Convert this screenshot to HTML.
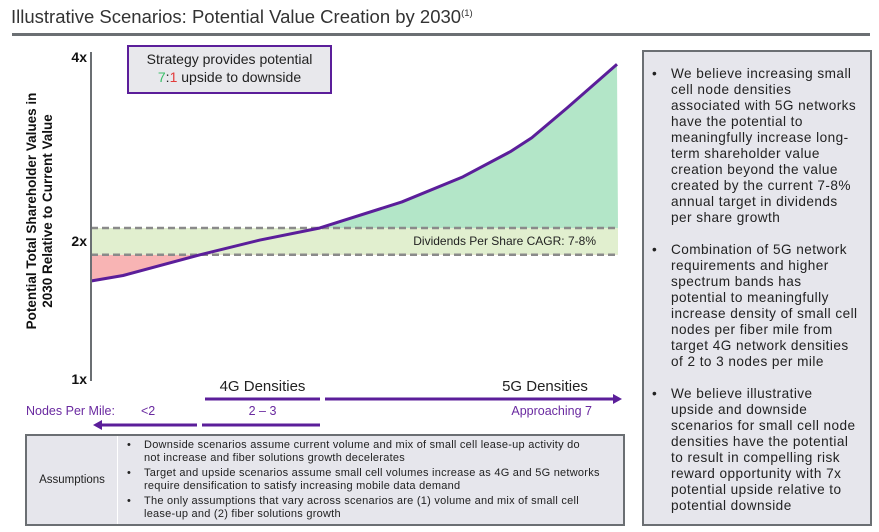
<!DOCTYPE html>
<html><head><meta charset="utf-8"><style>
body{margin:0;width:879px;height:532px;background:#fff;font-family:"Liberation Sans",sans-serif;position:relative;overflow:hidden;color:#222}
.abs{position:absolute}
#rp{left:642px;top:50px;width:226px;height:472px;border:2px solid #6b6f73;background:#e6e6ec;box-sizing:content-box}
#rp ul{margin:0;padding:0 0 0 27px;list-style:none;font-size:13.6px;line-height:16px;color:#222;white-space:nowrap;letter-spacing:0.45px}
#rp li{position:relative;margin-top:0}
#rp li::before{content:"•";position:absolute;left:-19px}
#tb{left:25px;top:434px;width:596px;height:88px;border:2px solid #6b6f73;background:#e6e6ec;font-size:11px;line-height:12.6px;letter-spacing:0.25px}
#tb ul{list-style:none;margin:0;padding:0;white-space:nowrap}
#tb li{position:relative;padding-left:17px;margin-bottom:3px}
#tb li::before{content:"•";position:absolute;left:0}
</style></head><body>
<div class="abs" style="left:11px;top:6px;font-size:18.5px;color:#333">Illustrative Scenarios: Potential Value Creation by 2030<sup style="font-size:9.5px">(1)</sup></div>
<div class="abs" style="left:12px;top:33px;width:858px;height:3px;background:#6b6f73"></div>

<svg class="abs" style="left:0;top:0" width="879" height="532">
<g id="plot"></g>
</svg>

<div class="abs" style="left:127px;top:45px;width:201px;height:42px;border:2px solid #5b1e9a;background:#e8e8ec;text-align:center;font-size:14px;line-height:18px;padding-top:3px;color:#222;white-space:nowrap">Strategy provides potential<br><span style="color:#3bbf6a">7</span>:<span style="color:#e23b3b">1</span> upside to downside</div>

<div class="abs" style="left:-115px;top:195px;width:310px;text-align:center;transform:rotate(-90deg);font-weight:bold;font-size:13.5px;line-height:16px;color:#111">Potential Total Shareholder Values in<br>2030 Relative to Current Value</div>

<div class="abs" style="left:200px;top:378px;width:125px;text-align:center;font-size:15px">4G Densities</div>
<div class="abs" style="left:476px;top:378px;width:138px;text-align:center;font-size:15px">5G Densities</div>
<div class="abs" style="left:26px;top:404px;font-size:12.5px;color:#6a2aa0">Nodes Per Mile:</div>
<div class="abs" style="left:141px;top:404px;font-size:12.5px;color:#6a2aa0">&lt;2</div>
<div class="abs" style="left:205px;top:404px;width:115px;text-align:center;font-size:12.5px;color:#6a2aa0">2 – 3</div>
<div class="abs" style="left:470px;top:404px;width:122px;text-align:right;font-size:12.5px;color:#6a2aa0">Approaching 7</div>

<div id="tb" class="abs">
<div class="abs" style="left:0;top:0;width:90px;height:88px;border-right:1px solid #fff;display:flex;align-items:center;justify-content:center;font-size:11.5px;letter-spacing:0">Assumptions</div>
<ul class="abs" style="left:100px;top:3px;width:490px">
<li>Downside scenarios assume current volume and mix of small cell lease-up activity do<br>not increase and fiber solutions growth decelerates</li>
<li>Target and upside scenarios assume small cell volumes increase as 4G and 5G networks<br>require densification to satisfy increasing mobile data demand</li>
<li>The only assumptions that vary across scenarios are (1) volume and mix of small cell<br>lease-up and (2) fiber solutions growth</li>
</ul></div>

<div id="rp" class="abs">
<ul style="margin-top:14px">
<li>We believe increasing small<br>cell node densities<br>associated with 5G networks<br>have the potential to<br>meaningfully increase long-<br>term shareholder value<br>creation beyond the value<br>created by the current 7-8%<br>annual target in dividends<br>per share growth</li>
<li style="margin-top:16px">Combination of 5G network<br>requirements and higher<br>spectrum bands has<br>potential to meaningfully<br>increase density of small cell<br>nodes per fiber mile from<br>target 4G network densities<br>of 2 to 3 nodes per mile</li>
<li style="margin-top:16px">We believe illustrative<br>upside and downside<br>scenarios for small cell node<br>densities have the potential<br>to result in compelling risk<br>reward opportunity with 7x<br>potential upside relative to<br>potential downside</li>
</ul></div>

<script>
const xs = [0, 6.1, 20.7, 32.1, 43.5, 59.1, 70.7, 79.7, 83.8, 90.5, 100];
const values = [1.71, 1.75, 1.90, 2.01, 2.14, 2.42, 2.69, 2.96, 3.11, 3.43, 3.90];
const bandRange = [1.90, 2.14];
const tickValues = [1, 2, 4];
const tickLabels = ["1x", "2x", "4x"];

const NS = "http://www.w3.org/2000/svg";
function X(v){ return 91 + v / 100 * 526; }
function Y(v){ return v <= 2 ? 379 - (v - 1) * 138 : 241 - (v - 2) * 93; }
const g = document.getElementById('plot');
function mk(tag, attrs){ const e = document.createElementNS(NS, tag); for (const k in attrs) e.setAttribute(k, attrs[k]); g.appendChild(e); return e; }

const yTop = Y(bandRange[1]), yBot = Y(bandRange[0]);
const x0 = X(0), x1 = X(100) + 1;
const pts = xs.map((x, i) => X(x) + ',' + Y(values[i])).join(' ');

let defs = mk('defs', {});
defs.innerHTML = '<clipPath id="cu"><rect x="0" y="0" width="879" height="' + yTop + '"/></clipPath><clipPath id="cd"><rect x="0" y="' + yBot + '" width="879" height="300"/></clipPath>';

let band = mk('rect', {x: x0, y: yTop, width: x1 - x0, height: yBot - yTop, fill: '#e1efcf'});



let up = mk('polygon', {points: pts + ' ' + x1 + ',' + yTop + ' ' + x0 + ',' + yTop, fill: '#b3e6c8', 'clip-path': 'url(#cu)'});


let dn = mk('polygon', {points: pts + ' ' + x1 + ',' + yBot + ' ' + x0 + ',' + yBot, fill: '#f8b4b4', 'clip-path': 'url(#cd)'});



[yTop, yBot].forEach((yy, i) => {
  let l = mk('line', {x1: x0, x2: x1, y1: yy, y2: yy, stroke: '#8a8a8a', 'stroke-width': 2.5, 'stroke-dasharray': '7,4'});
  
  
});
let bl = mk('text', {x: 596, y: yTop + 17, 'text-anchor': 'end', 'font-size': 12, fill: '#222', 'font-family': 'Liberation Sans, sans-serif'});
bl.textContent = 'Dividends Per Share CAGR: 7-8%';



let ln = mk('polyline', {points: pts, fill: 'none', stroke: '#5b1e9a', 'stroke-width': 3, 'stroke-linejoin': 'round'});



let ax = mk('line', {x1: 91, x2: 91, y1: 52, y2: 381, stroke: '#6b6f73', 'stroke-width': 2});


tickValues.forEach((v, i) => {
  let t = mk('text', {x: 87, y: Y(v) + (v === 4 ? 7 : 5), 'text-anchor': 'end', 'font-size': 14, 'font-weight': 'bold', fill: '#111', 'font-family': 'Liberation Sans, sans-serif'});
  t.textContent = tickLabels[i];
  
  
});

const P = '#5b1e9a';
function seg(name, a, b, y, head){
  let l = mk('line', {x1: a, x2: b, y1: y, y2: y, stroke: P, 'stroke-width': 3});
  
  
  if (head === 'r') mk('polygon', {points: (b+8)+','+y+' '+(b-1)+','+(y-5)+' '+(b-1)+','+(y+5), fill: P});
  if (head === 'l') mk('polygon', {points: (a-8)+','+y+' '+(a+1)+','+(y-5)+' '+(a+1)+','+(y+5), fill: P});
}
seg('4g-line', 205, 320, 399);
seg('5g-arrow', 325, 614, 399, 'r');
seg('downside-arrow', 101, 197, 425, 'l');
seg('4g-nodes-line', 202, 320, 425);
</script>
</body></html>
